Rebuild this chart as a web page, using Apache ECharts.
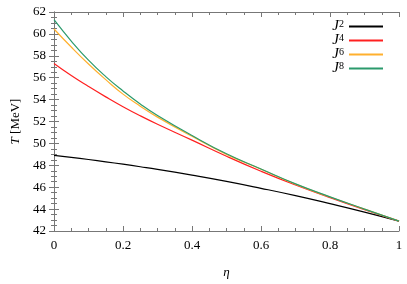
<!DOCTYPE html>
<html><head><meta charset="utf-8">
<script src="https://cdn.jsdelivr.net/npm/echarts@6/dist/echarts.min.js"></script>
<style>html,body{margin:0;padding:0;background:#fff}#c{width:407px;height:284px}</style>
</head><body><div id="c"></div>
<script>
const eta = [0, 0.05, 0.1, 0.15, 0.2, 0.25, 0.3, 0.4, 0.5, 0.6, 0.7, 0.8, 0.9, 1];
const J2 = [48.9, 48.72, 48.53, 48.32, 48.10, 47.87, 47.63, 47.10, 46.53, 45.90, 45.23, 44.50, 43.73, 42.9];
const J4 = [57.3, 56.2, 55.2, 54.25, 53.35, 52.52, 51.75, 50.3, 48.83, 47.46, 46.2, 45.05, 43.95, 42.9];
const J6 = [60.45, 58.8, 57.25, 55.82, 54.5, 53.4, 52.4, 50.65, 49.0, 47.64, 46.28, 45.1, 44.0, 42.9];
const J8 = [61.3, 59.35, 57.6, 56.1, 54.79, 53.6, 52.55, 50.72, 49.05, 47.66, 46.3, 45.12, 44.0, 42.9];
const names = ['J2', 'J4', 'J6', 'J8'];
const colors = ['#000000', '#ff2020', '#ffb02e', '#2b9a6c'];
const xTicks = [0, 0.2, 0.4, 0.6, 0.8, 1];
const yTicks = [42, 44, 46, 48, 50, 52, 54, 56, 58, 60, 62];

const serif = 'Liberation Serif';
const data = [J2, J4, J6, J8];
const chart = echarts.init(document.getElementById('c'));
const frame = '#777';
const lbl = {show: true, color: '#000', fontFamily: serif, fontSize: 13, fontStyle: 'normal'};
function axisCommon() {
  return {
    axisLine: {show: true, lineStyle: {color: frame, width: 1}},
    axisTick: {show: true, inside: true, length: 5, lineStyle: {color: frame}},
    minorTick: {show: true, splitNumber: 4, length: 3, lineStyle: {color: frame}},
    splitLine: {show: false}
  };
}
chart.setOption({
  animation: false,
  backgroundColor: '#fff',
  textStyle: {fontFamily: serif},
  grid: {left: 54, right: 8, top: 12, bottom: 44},
  legend: {
    orient: 'vertical', right: 19, top: 14, align: 'right',
    itemWidth: 34, itemHeight: 2, itemGap: -1, icon: 'rect',
    data: names,
    formatter: n => '{i|J}{s|' + n.slice(1) + '}',
    textStyle: {
      fontFamily: serif, color: '#000',
      rich: {
        i: {fontStyle: 'italic', fontSize: 15, fontFamily: serif, lineHeight: 14.5},
        s: {fontSize: 10, fontFamily: serif, verticalAlign: 'top', lineHeight: 9}
      }
    }
  },
  xAxis: [
    Object.assign({type: 'value', min: 0, max: 1, interval: 0.2, position: 'bottom',
      name: 'η', nameLocation: 'middle', nameGap: 35,
      nameTextStyle: {fontFamily: serif, fontStyle: 'italic', fontSize: 13, color: '#000'},
      axisLabel: Object.assign({}, lbl, {margin: 8})},
      axisCommon()),
    Object.assign({type: 'value', min: 0, max: 1, interval: 0.2, position: 'top', axisLabel: {show: false}}, axisCommon())
  ],
  yAxis: [
    Object.assign({type: 'value', min: 42, max: 62, interval: 2, position: 'left',
      name: '{i|T}{n| [MeV]}', nameLocation: 'middle', nameGap: 28, nameRotate: 90,
      nameTextStyle: {fontFamily: serif, fontSize: 13, color: '#000',
        rich: {i: {fontStyle: 'italic', fontFamily: serif, fontSize: 13}, n: {fontFamily: serif, fontSize: 13}}},
      axisLabel: Object.assign({}, lbl, {margin: 8})},
      axisCommon()),
    Object.assign({type: 'value', min: 42, max: 62, interval: 2, position: 'right', axisLabel: {show: false}}, axisCommon())
  ],
  series: names.map((n, k) => ({
    name: n, type: 'line', smooth: 0.5, showSymbol: false, symbol: 'none',
    xAxisIndex: 0, yAxisIndex: 0,
    lineStyle: {color: colors[k], width: 1.2},
    itemStyle: {color: colors[k]},
    data: eta.map((e, i) => [e, data[k][i]])
  }))
});
</script></body></html>
